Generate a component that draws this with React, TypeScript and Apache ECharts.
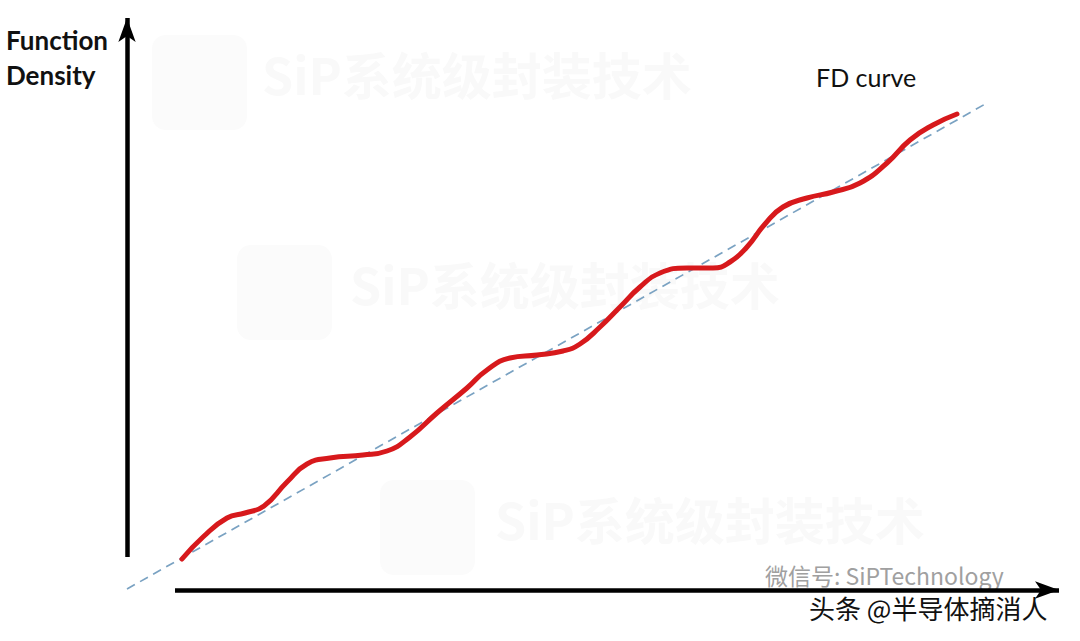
import React, { useEffect, useRef } from "react";
import * as echarts from "echarts";

// FD curve samples (x: along horizontal axis, y: function density)
const fdX = [55, 76, 100, 118, 137, 160, 180, 203, 236, 260, 283, 310, 340, 360, 383, 410, 436, 453, 473, 493, 513, 533, 560, 586, 603, 620, 638, 656, 680, 706, 733, 760, 783, 806, 830];
const fdY = [31, 53, 72, 77, 84, 108, 126, 132, 135, 139, 153, 177, 202, 220, 232, 235, 239, 246, 263, 283, 303, 317, 322, 322, 328, 343, 366, 383, 392, 398, 407, 427, 450, 465, 476];
// linear trend (dashed)
const trendX = [0, 860];
const trendY = [1, 487];
// axis arrows
const yAxisArrow = [[0, 33], [0, 572]];
const xAxisArrow = [[48, 0], [932, 0]];

const yTitle = "Function\nDensity";
const curveLabel = "FD curve";
const watermark = "SiP系统级封装技术";

export default function App() {
  const ref = useRef<HTMLDivElement>(null);
  useEffect(() => {
    const chart = echarts.init(ref.current!, null, { renderer: "svg" });
    const wmText = (x: number, y: number) => ({
      type: "text",
      left: x,
      top: y,
      silent: true,
      z: -10,
      style: {
        text: watermark,
        fill: "#f9f9f9",
        font: "bold 50px 'Noto Sans CJK SC'",
      },
    });
    const wmBox = (x: number, y: number) => ({
      type: "rect",
      shape: { x, y, width: 95, height: 95, r: 14 },
      silent: true,
      z: -10,
      style: { fill: "#fbfbfb" },
    });
    chart.setOption({
      animation: false,
      backgroundColor: "#ffffff",
      grid: { left: 127, right: 0, top: 0, bottom: 51 },
      xAxis: { type: "value", min: 0, max: 953, show: false },
      yAxis: { type: "value", min: 0, max: 590, show: false },
      graphic: [
        wmBox(152, 35),
        wmText(262, 48),
        wmBox(237, 245),
        wmText(350, 258),
        wmBox(380, 480),
        wmText(495, 493),
        {
          type: "text",
          left: 6,
          top: 22,
          style: {
            text: yTitle,
            fill: "#111",
            font: "bold 26px Lato",
            lineHeight: 35,
          },
        },
        {
          type: "text",
          left: 816,
          top: 64,
          style: { text: curveLabel, fill: "#111", font: "25px Lato" },
        },
        {
          type: "text",
          left: 765,
          top: 563,
          style: {
            text: "微信号: SiPTechnology",
            fill: "#a0a0a0",
            font: "23px 'Noto Sans CJK SC'",
          },
        },
        {
          type: "text",
          left: 808,
          top: 593,
          style: {
            text: "头条 @半导体摘消人",
            fill: "#111",
            stroke: "#fff",
            lineWidth: 2,
            font: "26px 'Noto Sans CJK SC'",
          },
        },
      ],
      series: [
        {
          type: "line",
          data: trendX.map((x, i) => [x, trendY[i]]),
          symbol: "none",
          lineStyle: { color: "#7aa2c2", width: 1.7, type: [9, 6] },
          silent: true,
          z: 2,
          markLine: {
            silent: true,
            symbol: ["none", "arrow"],
            symbolSize: [13, 24],
            label: { show: false },
            lineStyle: { color: "#000", width: 4.5, type: "solid" },
            emphasis: { disabled: true },
            data: [
              [{ coord: yAxisArrow[0] }, { coord: yAxisArrow[1] }],
              [{ coord: xAxisArrow[0] }, { coord: xAxisArrow[1] }],
            ],
          },
        },
        {
          type: "line",
          data: fdX.map((x, i) => [x, fdY[i]]),
          symbol: "none",
          smooth: 0.5,
          lineStyle: { color: "#d7191c", width: 5, cap: "round" },
          silent: true,
          z: 3,
        },
      ],
    });
    return () => chart.dispose();
  }, []);
  return <div ref={ref} style={{ width: 1080, height: 641, position: "absolute", left: 0, top: 0 }} />;
}
